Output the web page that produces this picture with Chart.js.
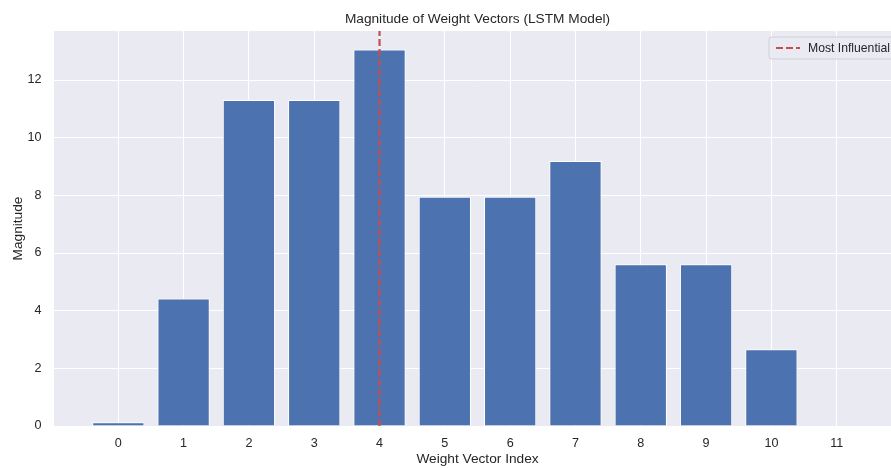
<!DOCTYPE html>
<html>
<head>
<meta charset="utf-8">
<script src="https://cdn.jsdelivr.net/npm/chart.js@4/dist/chart.umd.min.js"></script>
<style>
  html, body { margin: 0; padding: 0; background: #ffffff; overflow: hidden; width: 891px; height: 468px; }
  #wrap { position: relative; width: 912px; height: 468px; }
</style>
</head>
<body>
<div id="wrap"><canvas id="c" width="912" height="468"></canvas></div>
<script>
const categories = [0, 1, 2, 3, 4, 5, 6, 7, 8, 9, 10, 11];
const magnitudes = [0.13, 4.42, 11.31, 11.31, 13.06, 7.95, 7.95, 9.19, 5.61, 5.61, 2.66, 0];
const yTicks = [0, 2, 4, 6, 8, 10, 12];
const mostInfluentialIndex = 4;
const yMax = 13.7;
const titleText = 'Magnitude of Weight Vectors (LSTM Model)';
const xTitle = 'Weight Vector Index';
const yTitle = 'Magnitude';
const legendLabel = 'Most Influential';

const FONT = '"Liberation Sans", Arial, sans-serif';
const TEXT = '#262626';
const RED = '#C44E52';

const bgPlugin = {
  id: 'bg',
  beforeDraw(chart) {
    const { ctx, chartArea: a } = chart;
    ctx.save();
    ctx.fillStyle = '#EAEAF2';
    ctx.fillRect(a.left, a.top, a.right - a.left, a.bottom - a.top);
    ctx.restore();
  },
  afterDraw(chart) {
    const { ctx, chartArea: a } = chart;
    ctx.save();
    ctx.fillStyle = TEXT;
    ctx.font = '13.7px ' + FONT;
    ctx.textAlign = 'center';
    ctx.textBaseline = 'middle';
    ctx.fillText(titleText, (a.left + a.right) / 2, 19);
    const lx = 769, ly = 37, lw = 129, lh = 22;
    ctx.beginPath();
    const r = 3;
    ctx.moveTo(lx + r, ly);
    ctx.lineTo(lx + lw - r, ly);
    ctx.arcTo(lx + lw, ly, lx + lw, ly + r, r);
    ctx.lineTo(lx + lw, ly + lh - r);
    ctx.arcTo(lx + lw, ly + lh, lx + lw - r, ly + lh, r);
    ctx.lineTo(lx + r, ly + lh);
    ctx.arcTo(lx, ly + lh, lx, ly + lh - r, r);
    ctx.lineTo(lx, ly + r);
    ctx.arcTo(lx, ly, lx + r, ly, r);
    ctx.closePath();
    ctx.fillStyle = 'rgba(234,234,242,0.85)';
    ctx.fill();
    ctx.strokeStyle = '#d0d0d6';
    ctx.lineWidth = 1;
    ctx.stroke();
    ctx.beginPath();
    ctx.setLineDash([7, 3]);
    ctx.strokeStyle = RED;
    ctx.lineWidth = 2;
    ctx.moveTo(776, ly + lh / 2);
    ctx.lineTo(800, ly + lh / 2);
    ctx.stroke();
    ctx.setLineDash([]);
    ctx.fillStyle = TEXT;
    ctx.font = '12.2px ' + FONT;
    ctx.textAlign = 'left';
    ctx.textBaseline = 'middle';
    ctx.fillText(legendLabel, 808, ly + lh / 2 + 0.5);
    ctx.restore();
  }
};

const barData = categories.map((c, i) => ({ x: c, y: magnitudes[i] }));
const lineData = [{ x: mostInfluentialIndex, y: 0 }, { x: mostInfluentialIndex, y: yMax }];

new Chart(document.getElementById('c'), {
  type: 'bar',
  data: {
    datasets: [
      {
        type: 'line',
        label: legendLabel,
        data: lineData,
        borderColor: RED,
        borderWidth: 2.2,
        borderDash: [7, 3],
        pointRadius: 0,
        fill: false,
        order: 0
      },
      {
        type: 'bar',
        label: 'Magnitude',
        data: barData,
        backgroundColor: '#4C72B0',
        borderColor: '#ffffff',
        borderWidth: 1,
        barPercentage: 0.8,
        categoryPercentage: 1.0,
        order: 1
      }
    ]
  },
  options: {
    responsive: false,
    animation: false,
    layout: { padding: { top: 31, right: 9, left: 0, bottom: 0 } },
    plugins: {
      legend: { display: false },
      title: { display: false },
      tooltip: { enabled: false }
    },
    scales: {
      x: {
        type: 'linear',
        min: -1,
        max: 12,
        offset: false,
        grid: { color: '#ffffff', lineWidth: 1, drawTicks: false, offset: false },
        border: { display: false },
        ticks: {
          stepSize: 1,
          padding: 10,
          color: TEXT,
          font: { family: FONT, size: 12.6 },
          callback: (v) => (v >= 0 && v <= 11 && categories.includes(v)) ? String(v) : ''
        },
        title: { display: true, text: xTitle, color: TEXT, font: { family: FONT, size: 13.7 }, padding: { top: 0, bottom: 1 } },
        afterFit: (s) => { s.height = 42; }
      },
      y: {
        min: 0,
        max: yMax,
        grid: { color: '#ffffff', lineWidth: 1, drawTicks: false },
        border: { display: false },
        afterBuildTicks: (s) => { s.ticks = yTicks.map(v => ({ value: v })); },
        ticks: {
          padding: 11.5,
          color: TEXT,
          font: { family: FONT, size: 12.6 }
        },
        title: { display: true, text: yTitle, color: TEXT, font: { family: FONT, size: 13.7 }, padding: { top: 10, bottom: 0 } },
        afterFit: (s) => { s.width = 53; }
      }
    }
  },
  plugins: [bgPlugin]
});
</script>
</body>
</html>
